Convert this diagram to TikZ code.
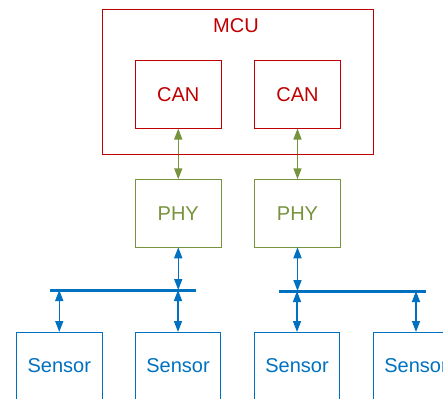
\documentclass[tikz,border=0pt]{standalone}
\usepackage{fontspec}
\setmainfont{Liberation Sans}
\usetikzlibrary{arrows.meta}
\definecolor{cred}{HTML}{C00000}
\definecolor{cgreen}{HTML}{77933C}
\definecolor{cblue}{HTML}{0070C0}
\tikzset{
  box/.style={draw, rectangle, line width=1pt, inner sep=0pt, outer sep=0pt,
    minimum width=85.5pt, minimum height=68pt, font=\fontsize{20}{24}\selectfont},
  redbox/.style={box, draw=cred, text=cred},
  greenbox/.style={box, draw=cgreen, text=cgreen},
  bluebox/.style={box, draw=cblue, text=cblue},
  tipstyle/.style={{Triangle[length=11pt,width=8pt]}-{Triangle[length=11pt,width=8pt]}},
  garrow/.style={draw=cgreen, line width=1.5pt, tipstyle, fill=cgreen},
  barrow/.style={draw=cblue, line width=1.5pt, tipstyle, fill=cblue},
  busline/.style={draw=cblue, line width=3pt},
}
\begin{document}
\begin{tikzpicture}[x=1pt,y=-1pt]
\useasboundingbox (0,0) rectangle (443,398);
\clip (0,0) rectangle (443,398);
\node[redbox] (can1) at (178.25,94.5) {CAN};
\node[redbox] (can2) at (297.5,94.5) {CAN};
\node[greenbox] (phy1) at (178.25,213.25) {PHY};
\node[greenbox] (phy2) at (297.5,213.25) {PHY};
\node[bluebox] (s1) at (59.25,366) {Sensor};
\node[bluebox] (s2) at (178,366) {Sensor};
\node[bluebox] (s3) at (297,366) {Sensor};
\node[bluebox] (s4) at (416,366) {Sensor};
\coordinate (b1l) at (50,290);
\coordinate (b1r) at (196,290);
\coordinate (b2l) at (279,291);
\coordinate (b2r) at (426,291);
\draw[busline] (b1l) -- (b1r);
\draw[busline] (b2l) -- (b2r);
\draw[garrow] (can1.south) -- (phy1.north);
\draw[garrow] (can2.south) -- (phy2.north);
\draw[barrow] (phy1.south) -- (phy1.south |- b1l);
\draw[barrow] (phy2.south) -- (phy2.south |- b2l);
\draw[barrow] (s1.north |- b1l) -- (s1.north);
\draw[barrow] (s2.north |- b1l) -- (s2.north);
\draw[barrow] (s3.north |- b2l) -- (s3.north);
\draw[barrow] (s4.north |- b2l) -- (s4.north);
\node[draw=cred, line width=1pt, rectangle, inner sep=0pt, outer sep=0pt,
  minimum width=271pt, minimum height=144pt] (mcu) at (238,82) {};
\node[text=cred, font=\fontsize{20}{24}\selectfont] (mcutext) at (236,26) {MCU};
\end{tikzpicture}
\end{document}
